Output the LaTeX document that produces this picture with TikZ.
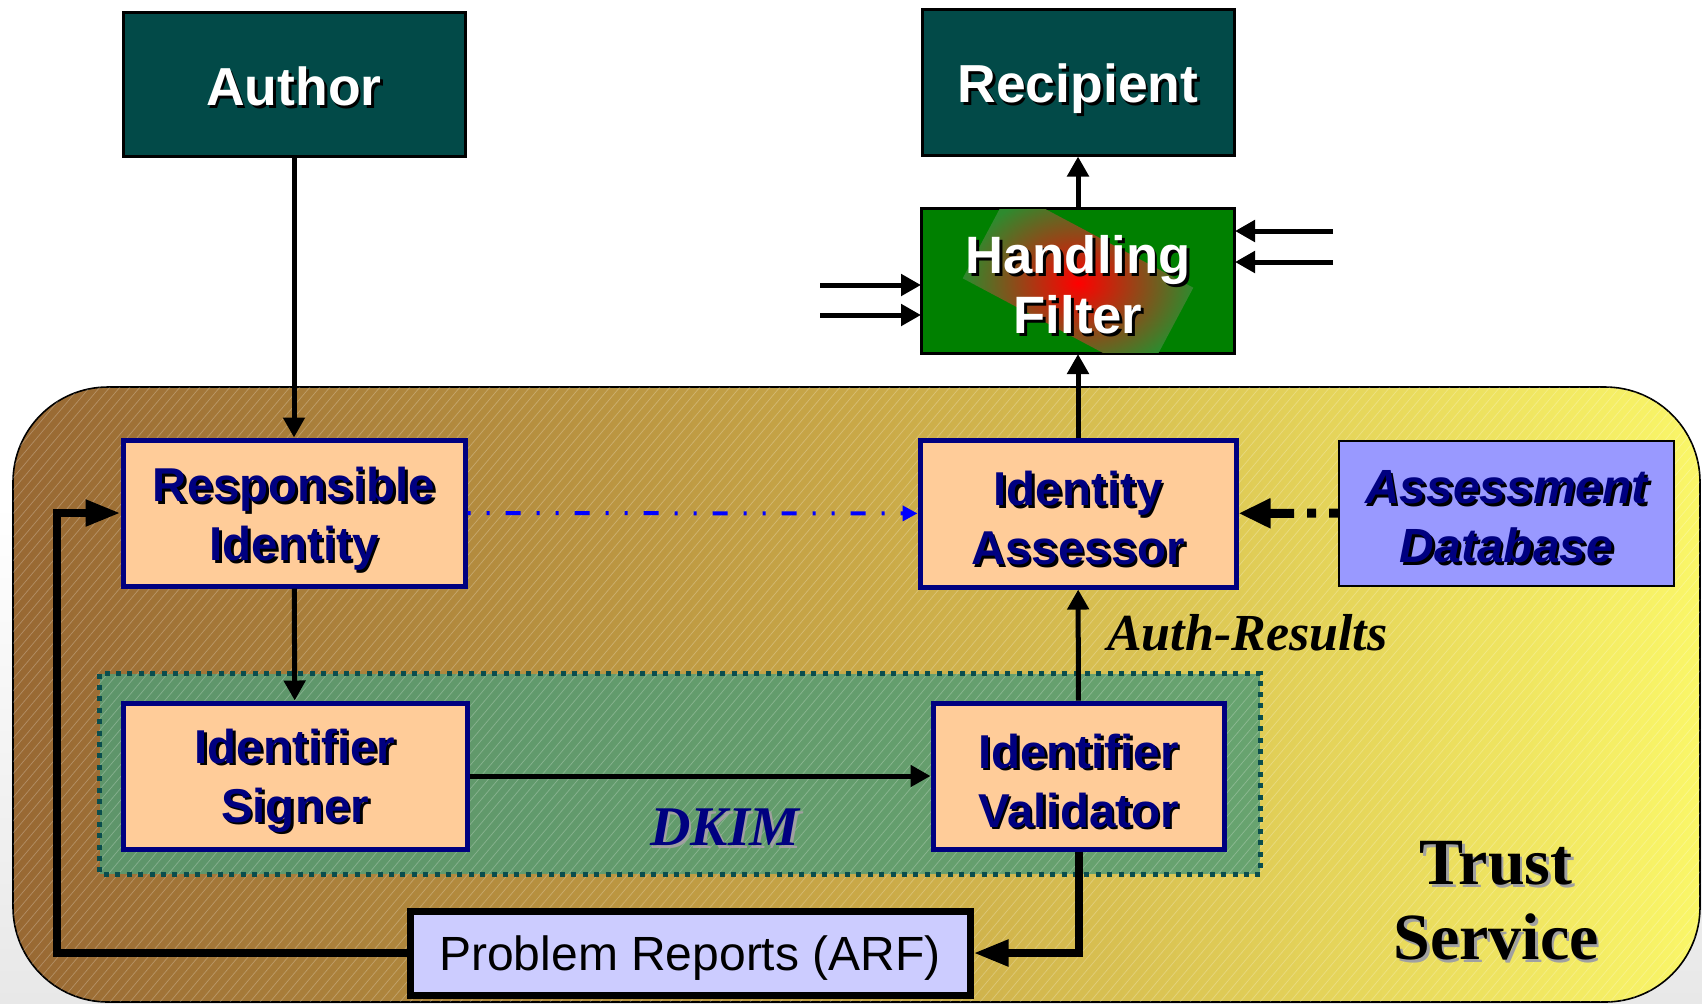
\documentclass[tikz,border=0pt]{standalone}
\usepackage{fontspec}
\setmainfont{Liberation Sans}
\newfontfamily\serifx{Liberation Serif}
\usetikzlibrary{arrows.meta,shadings,shadows}
\definecolor{bgteal}{HTML}{024A48}
\definecolor{navyx}{HTML}{000080}
\definecolor{peach}{HTML}{FFCC99}
\definecolor{lav}{HTML}{9999FF}
\definecolor{lavlight}{HTML}{CCCCFF}
\definecolor{filtgreen}{HTML}{008000}
\definecolor{filtedge}{HTML}{2E8A2E}
\definecolor{trustA}{HTML}{986833}
\definecolor{trustB}{HTML}{C9A847}
\definecolor{trustC}{HTML}{FAF668}
\definecolor{dkimfill}{HTML}{539C74}
\definecolor{dkimedge}{HTML}{0A4D4D}
\definecolor{shgray}{HTML}{A0A0A0}
\definecolor{bggray}{HTML}{E8E8E8}
\newcommand\shd[2]{\leavevmode\rlap{\kern1.3pt\raisebox{-1.3pt}{\textcolor{#1}{#2}}}#2}
\begin{document}
\begin{tikzpicture}[x=0.5pt,y=-0.5pt,
  box/.style={draw, inner sep=0pt},
  topbox/.style={box, fill=bgteal, draw=black, line width=1.5pt},
  toptext/.style={align=center, inner sep=0pt, text=white, font={\fontsize{26.75}{32}\selectfont\bfseries}},
  idbox/.style={box, fill=peach, draw=navyx, line width=2.5pt,
    drop shadow={shadow xshift=1.2pt, shadow yshift=-1.2pt, fill=black, opacity=1}},
  idtext/.style={align=center, inner sep=0pt, text=navyx, font={\fontsize{23.75}{29.5}\selectfont\bfseries}},
  conn/.style={line width=2.5pt, -{Triangle[length=10pt,width=10.5pt]}},
  thickconn/.style={line width=4pt, -{Triangle[length=17.5pt,width=12.5pt]}},
]
\useasboundingbox (0,0) rectangle (1702,1003);
% background
\fill[top color=white, bottom color=bggray, middle color=white] (0,0) rectangle (1702,1003);
% trust service area
\path[draw=black, line width=0.8pt, rounded corners=47.5pt,
  left color=trustA, right color=trustC, middle color=trustB]
  (13,387) rectangle (1700,1002);
% DKIM area fill
\node[inner sep=0pt, fill=dkimfill, fill opacity=0.85, minimum width=580pt, minimum height=100pt] (dkimarea) at (680,774) {};
% hatch
\begin{scope}
  \clip[rounded corners=47.5pt] (13,387) rectangle (1700,1002);
  \foreach \i in {-600,-590,...,1700}
    \draw[white, opacity=0.25, line width=0.35pt] (\i,1002) -- ++(520,-615);
\end{scope}
\draw[dkimedge, line width=2.5pt, dash pattern=on 2.5pt off 3.2pt] (dkimarea.north west) rectangle (dkimarea.south east);

% top boxes
\node[topbox, minimum width=171pt, minimum height=72pt] (author) at (294,84) {};
\node[toptext] (author-t) at ([yshift=-2pt]author.center) {\shd{black}{Author}};
\node[topbox, minimum width=156pt, minimum height=73pt] (recip) at (1078,82) {};
\node[toptext] (recip-t) at ([yshift=-4pt]recip.center) {\shd{black}{Recipient}};

% handling filter
\node[box, fill=filtgreen, draw=black, line width=1pt, minimum width=156pt, minimum height=72pt] (filter) at (1078,281) {};
\begin{scope}
  \clip (filter.south west) rectangle (filter.north east);
  \node[inner sep=0pt, minimum width=104pt, minimum height=50pt, rotate=-28,
    shading=radial, inner color=red, outer color=filtedge] (filtglow) at (1078,283) {};
\end{scope}
\draw[black, line width=1pt] (filter.south west) rectangle (filter.north east);
\node[align=center, inner sep=0pt, text=white, font={\fontsize{26.3}{30}\selectfont\bfseries}] (filtertext) at ([yshift=-2.5pt]filter.center)
  {\shd{black}{Handling}\\\shd{black}{Filter}};

% filter side inputs
\coordinate (lin1) at (820,285);
\coordinate (lin2) at (820,315);
\coordinate (rin1) at (1333,231);
\coordinate (rin2) at (1333,262);
\draw[conn] (lin1) -- (lin1 -| filter.west);
\draw[conn] (lin2) -- (lin2 -| filter.west);
\draw[conn] (rin1) -- (rin1 -| filter.east);
\draw[conn] (rin2) -- (rin2 -| filter.east);

% identity boxes
\node[idbox, minimum width=171pt, minimum height=73pt] (ri) at (294,513) {};
\node[idtext] (ri-t) at ([yshift=-3.5pt]ri.center) {\shd{black}{Responsible}\\\shd{black}{Identity}};
\node[idbox, minimum width=158pt, minimum height=73.5pt] (ia) at (1078,513.5) {};
\node[idtext] (ia-t) at ([yshift=-3pt]ia.center) {\shd{black}{Identity}\\\shd{black}{Assessor}};
\node[box, fill=lav, draw=black, line width=1pt, minimum width=167.5pt, minimum height=72.5pt] (ad) at (1506.5,513) {};
\node[idtext, font={\fontsize{24}{29.5}\selectfont\bfseries\itshape}] (ad-t) at ([yshift=-2.5pt]ad.center) {\shd{black}{Assessment}\\\shd{black}{Database}};
\node[idbox, minimum width=172pt, minimum height=73pt] (is) at (295,776) {};
\node[idtext] (is-t) at ([yshift=-3pt]is.center) {\shd{black}{Identifier}\\\shd{black}{Signer}};
\node[idbox, minimum width=145.5pt, minimum height=73pt] (iv) at (1078.5,776) {};
\node[idtext] (iv-t) at ([yshift=-3pt]iv.center) {\shd{black}{Identifier}\\\shd{black}{Validator}};
\node[box, fill=lavlight, draw=black, line width=3.5pt, minimum width=280pt, minimum height=42pt] (pr) at (690,953) {};
\node[inner sep=0pt, font={\fontsize{24}{28}\selectfont}] (pr-t) at ([yshift=-2.5pt]pr.center) {Problem Reports (ARF)};

% labels
\node[text=navyx, font={\serifx\fontsize{28}{32}\selectfont\bfseries\itshape}] (dkimlabel) at (725,829) {\shd{shgray}{DKIM}};
\node[anchor=base west, font={\serifx\fontsize{26}{30}\selectfont\bfseries\itshape}] (authres) at (1100,650) {Auth-Results};
\node[align=center, font={\serifx\fontsize{33}{37.5}\selectfont\bfseries}] (trust) at (1496,902) {\shd{shgray}{Trust}\\\shd{shgray}{Service}};

% connectors
\draw[conn] (author) -- (ri);
\draw[conn] (ri) -- (is);
\draw[conn] (is) -- (is -| iv.west);
\draw[conn] (iv) -- (ia);
\draw[conn] (ia) -- (filter);
\draw[conn] (filter) -- (recip);
\draw[blue, line width=2pt, dash pattern=on 1.5pt off 8pt on 1.5pt off 8pt on 7.5pt off 8pt,
  -{Triangle[length=7.5pt,width=7.5pt]}] (ri) -- (ia);
\draw[black, line width=4.5pt, dash pattern=on 4.5pt off 6.5pt on 4.5pt off 6.5pt on 12pt off 0pt,
  -{Triangle[length=16pt,width=14pt]}] (ad) -- (ia);
\coordinate (fbl) at (57,953);
\coordinate (fbt) at (57,513);
\draw[thickconn] (pr.west) -- (fbl) -- (fbt) -- (ri.west);
\draw[thickconn] (iv.south) |- (pr.east);
\end{tikzpicture}
\end{document}
